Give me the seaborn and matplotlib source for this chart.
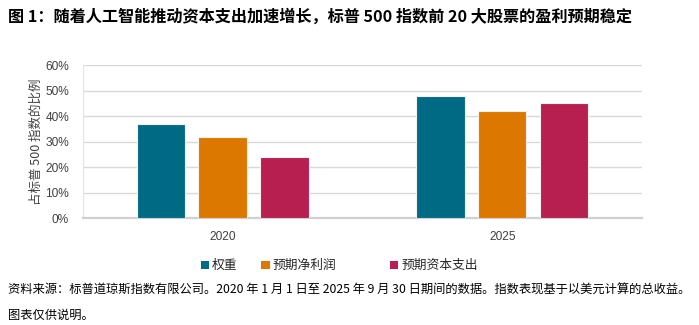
import matplotlib
matplotlib.use("Agg")
import matplotlib.pyplot as plt
import seaborn as sns
import pandas as pd
from matplotlib.ticker import PercentFormatter
from matplotlib.patches import Patch

years = ["2020", "2025"]
series = ["权重", "预期净利润", "预期资本支出"]
weight = [37, 48]
earnings = [32, 42]
capex = [24, 45]
colors = ["#006A85", "#DC7800", "#B71F50"]
yticks = [0, 10, 20, 30, 40, 50, 60]

rows = []
for name, vals in zip(series, [weight, earnings, capex]):
    for y, v in zip(years, vals):
        rows.append({"year": y, "series": name, "value": v})
df = pd.DataFrame(rows)

sns.set_theme(style="white")
plt.rcParams["font.family"] = ["Noto Sans CJK SC", "DejaVu Sans"]

fig = plt.figure(figsize=(6.99, 3.25), dpi=100)
ax = fig.add_axes([0.1187, 0.3283, 0.7997, 0.4717])

sns.barplot(data=df, x="year", y="value", hue="series", order=years,
            hue_order=series, palette=colors, width=0.661, gap=0.213,
            edgecolor="#F2F2F2", linewidth=0.8, saturation=1,
            legend=False, ax=ax, zorder=3)

ax.set_xlim(-0.5, 1.5)
ax.set_ylim(0, 60)
ax.set_yticks(yticks)
ax.yaxis.set_major_formatter(PercentFormatter(decimals=0))
ax.grid(axis="y", color="#D9D9D9", linewidth=1.0, zorder=0)
ax.set_axisbelow(True)
for s in ["top", "right"]:
    ax.spines[s].set_visible(False)
ax.spines["left"].set_color("#E3E3E3")
ax.spines["left"].set_linewidth(0.8)
ax.spines["bottom"].set_color("#D0D0D0")
ax.spines["bottom"].set_linewidth(1.6)
ax.tick_params(axis="both", length=0, labelsize=8.6, labelcolor="#404040")
ax.tick_params(axis="y", pad=10)
ax.tick_params(axis="x", pad=9)
for lab in ax.get_xticklabels() + ax.get_yticklabels():
    lab.set_fontfamily(["Liberation Sans", "DejaVu Sans"])
ax.set_xlabel("")
ax.set_ylabel("占标普 500 指数的比例", fontsize=9, color="#404040", labelpad=2)

# legend entries at Excel-like positions
xpos = [0.287, 0.374, 0.558]
for name, c, xp in zip(series, colors, xpos):
    fig.legend(handles=[Patch(facecolor=c, edgecolor="none", label=name)],
               loc="center left", bbox_to_anchor=(xp, 0.182), frameon=False,
               handlelength=0.65, handleheight=0.65, handletextpad=0.25,
               fontsize=9.2, borderaxespad=0, borderpad=0)

fig.text(0.011, 0.948, "图 1：随着人工智能推动资本支出加速增长，标普 500 指数前 20 大股票的盈利预期稳定",
         fontsize=11.65, fontweight="bold", color="#000000", va="center", ha="left")
fig.text(0.011, 0.108, "资料来源：标普道琼斯指数有限公司。2020 年 1 月 1 日至 2025 年 9 月 30 日期间的数据。指数表现基于以美元计算的总收益。",
         fontsize=8.85, color="#000000", va="center", ha="left")
fig.text(0.011, 0.031, "图表仅供说明。", fontsize=8.85, color="#000000", va="center", ha="left")

fig.savefig("out.png", dpi=100)
